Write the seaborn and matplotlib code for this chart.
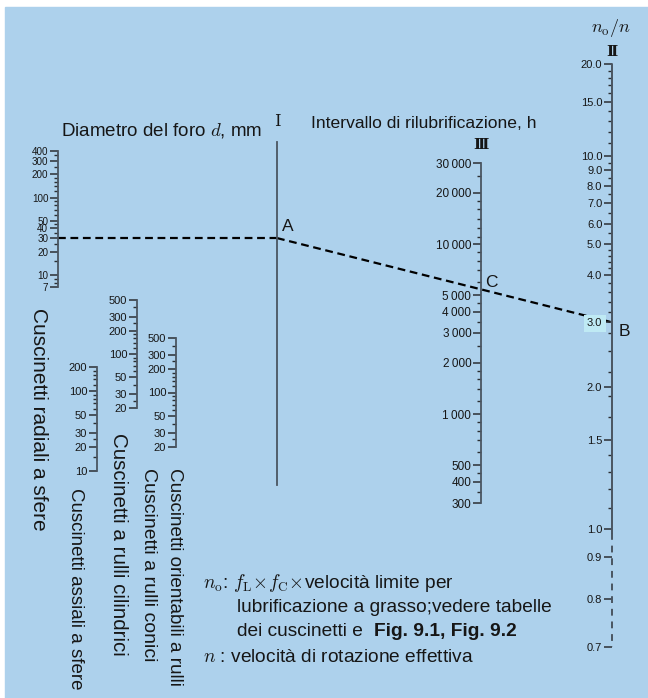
import numpy as np
import matplotlib
matplotlib.use('Agg')
from matplotlib import pyplot as plt
from matplotlib.patches import Rectangle
from matplotlib.ticker import NullFormatter
import seaborn as sns

# ---- scale values ----
d_radial_major = [7, 10, 20, 30, 40, 50, 100, 200, 300, 400]
d_radial_minor = [8, 9, 15, 25, 35, 45, 60, 70, 80, 90, 120, 140, 160, 180, 250, 350]
d_thrust_major = [10, 20, 30, 50, 100, 200]
d_thrust_minor = [15, 25, 40, 60, 70, 80, 90, 120, 140, 160, 180]
d_roller_major = [20, 30, 50, 100, 200, 300, 500]
d_roller_minor = [25, 40, 60, 70, 80, 90, 120, 140, 160, 180, 250, 400]
hours_major = [300, 400, 500, 1000, 2000, 3000, 4000, 5000, 10000, 20000, 30000]
hours_minor = [350, 450, 600, 700, 800, 900, 1200, 1400, 1600, 1800, 2500, 3500, 4500,
               6000, 7000, 8000, 9000, 11000, 12500, 14000, 16000, 18000, 25000]
ratio_major = [20, 15, 10, 9, 8, 7, 6, 5, 4, 3, 2, 1.5, 1.0, 0.9, 0.8, 0.7]
# depth along scale II (percent from the 20.0 end), the scale is not logarithmic
ratio_depth = [0, 6.5, 15.8, 18.2, 20.9, 23.8, 27.4, 30.9, 36.2, 44.3, 55.4, 64.5, 79.8, 84.6, 91.8, 100]
ratio_minor = [19, 18, 17, 16, 14, 13, 12, 11, 9.5, 8.5, 7.5, 6.5, 5.5,
               4.8, 4.6, 4.4, 4.2, 3.8, 3.6, 3.4, 3.2, 2.8, 2.5, 2.2, 1.9, 1.7, 1.4, 1.3, 1.2, 1.1]
example_d = 30      # mm, radial ball bearing
example_ratio = 3.0  # n0/n

BLUE = '#add1ec'
LINE = '#4a5561'
TICK = '#2b2f33'
TEXT = '#161616'

sns.set_style('white')
plt.rcParams['font.family'] = ['Liberation Sans', 'DejaVu Sans']
plt.rcParams['mathtext.fontset'] = 'cm'

W, H = 648, 698
fig = plt.figure(figsize=(W / 100, H / 100), dpi=100)
fig.patch.set_facecolor('white')
bg = fig.add_axes([0, 0, 1, 1])
bg.set_xlim(0, W)
bg.set_ylim(H, 0)
bg.axis('off')
bg.add_patch(Rectangle((5, 7), W - 5, H - 7, color=BLUE, zorder=0))


def make_scale(x, y_top, y_bot, lo, hi, major=None, labels=None, minor=None,
               scale='log', size=7.5):
    ax = fig.add_axes([x / W, 1 - y_bot / H, 1e-4, (y_bot - y_top) / H])
    if scale == 'log':
        ax.set_yscale('log')
    elif scale != 'linear':
        ax.set_yscale('function', functions=scale)
    ax.set_ylim(lo, hi)
    ax.set_xlim(0, 1)
    ax.set_xticks([])
    ax.patch.set_visible(False)
    for s in ['top', 'right', 'bottom']:
        ax.spines[s].set_visible(False)
    ax.spines['left'].set_color(LINE)
    ax.spines['left'].set_linewidth(1.3)
    if major is None:
        ax.set_yticks([])
        ax.set_yticks([], minor=True)
        return ax
    ticks = ax.set_yticks(major, labels=labels, fontsize=size)
    ax.set_yticks(minor, minor=True)
    ax.yaxis.set_minor_formatter(NullFormatter())
    ax.tick_params(axis='y', which='major', left=True, direction='out', length=5.5, width=1.1,
                   color=TICK, pad=1.5, labelcolor=TEXT)
    ax.tick_params(axis='y', which='minor', left=True, direction='out', length=3.2, width=1.0,
                   color=TICK)
    return ax, ticks


def hours_fmt(v):
    return f'{v:,}'.replace(',', '\u2009') if v >= 1000 else str(v)


ax_rad, _ = make_scale(58, 151, 287, 7, 400, d_radial_major, [str(v) for v in d_radial_major],
                       d_radial_minor, size=7.1)
ax_thr, _ = make_scale(97, 367, 471, 10, 200, d_thrust_major, [str(v) for v in d_thrust_major],
                       d_thrust_minor, size=8)
ax_cyl, _ = make_scale(137, 300, 408, 20, 500, d_roller_major, [str(v) for v in d_roller_major],
                       d_roller_minor, size=8)
ax_sph, _ = make_scale(176, 338, 447, 20, 500, d_roller_major, [str(v) for v in d_roller_major],
                       d_roller_minor, size=8)
ax_I = make_scale(277, 142, 485, 0, 1, scale='linear')
ax_h, _ = make_scale(481, 163, 503, 300, 30000, hours_major, [hours_fmt(v) for v in hours_major],
                     hours_minor, size=8.5)

# scale II: non-logarithmic, defined by the depth readings
lv = np.log10(ratio_major)[::-1]
uv = (100 - np.array(ratio_depth))[::-1]


def fwd(v):
    with np.errstate(divide='ignore', invalid='ignore'):
        return np.interp(np.log10(np.clip(v, 1e-6, None)), lv, uv)


def inv(u):
    return 10 ** np.interp(u, uv, lv)


ax_r, r_ticks = make_scale(612, 64, 647, 0.7, 20, ratio_major, [f'{v:.1f}' for v in ratio_major],
                           ratio_minor, scale=(fwd, inv), size=8)
ax_r.spines['left'].set_visible(False)
ax_r.plot([0, 0], [20, 0.985], color=LINE, lw=1.4, clip_on=False)
ax_r.plot([0, 0], [0.985, 0.7], color=LINE, lw=1.4, ls=(0, (3.5, 3)), clip_on=False)
for tk in r_ticks:
    if tk.label1.get_text() == '3.0':
        tk.label1.set_bbox(dict(boxstyle='square,pad=0.3', facecolor='#bfeaf4', edgecolor='none'))

# ---- worked example path through A, C, B ----
inv_bg = bg.transData.inverted()
p0 = inv_bg.transform(ax_rad.transData.transform((0, example_d)))
xI = inv_bg.transform(ax_I.transAxes.transform((0, 0.5)))[0]
pA = np.array([xI, p0[1]])
pB = inv_bg.transform(ax_r.transData.transform((0, example_ratio)))
xC = inv_bg.transform(ax_h.transAxes.transform((0, 0.5)))[0]
yC = pA[1] + (pB[1] - pA[1]) * (xC - pA[0]) / (pB[0] - pA[0])

dash = (0, (3.5, 2.1))
sns.lineplot(x=[p0[0], pA[0]], y=[p0[1], pA[1]], ax=bg, color='black', lw=1.6, linestyle=dash)
sns.lineplot(x=[pA[0], pB[0]], y=[pA[1], pB[1]], ax=bg, color='black', lw=1.6, linestyle=dash)
bg.set_xlim(0, W)
bg.set_ylim(H, 0)
bg.axis('off')

big = 13.5
bg.text(pA[0] + 5, pA[1] - 4, 'A', fontsize=12.5, color=TEXT, ha='left', va='bottom')
bg.text(xC + 4, yC + 1, 'C', fontsize=12.5, color=TEXT, ha='left', va='bottom')
bg.text(pB[0] + 7, pB[1] + 9, 'B', fontsize=12.5, color=TEXT, ha='left', va='center')

# ---- titles ----
bg.text(162, 131, 'Diametro del foro $d$, mm', fontsize=big, color=TEXT, ha='center', va='center')
bg.text(277, 122, 'Ⅰ', fontsize=12, color=TEXT, ha='center', va='center', family=['DejaVu Serif', 'DejaVu Sans'])
bg.text(424, 124, 'Intervallo di rilubrificazione, h', fontsize=12.6, color=TEXT, ha='center', va='center')
bg.text(481, 145, 'Ⅲ', fontsize=11, color=TEXT, ha='center', va='center', weight='bold',
        family=['DejaVu Serif', 'DejaVu Sans'])
bg.text(612, 52, 'Ⅱ', fontsize=11, color=TEXT, ha='center', va='center', weight='bold',
        family=['DejaVu Serif', 'DejaVu Sans'])
bg.text(611, 28, r'$n_{\mathrm{o}}/n$', fontsize=13, color=TEXT, ha='center', va='center')

# ---- bearing type names ----
names = [(38, 308, 'Cuscinetti radiali a sfere', 15),
         (75, 488, 'Cuscinetti assiali a sfere', 13.5),
         (118, 433, 'Cuscinetti a rulli cilindrici', 14.8),
         (148, 468, 'Cuscinetti a rulli conici', 14),
         (174, 468, 'Cuscinetti orientabili a rulli', 13.6)]
for x, y, s, fs in names:
    bg.text(x, y, s, rotation=-90, fontsize=fs, color=TEXT, ha='center', va='top')

# ---- notes ----
note = 13.8
bg.text(203, 583, r'$n_{\mathrm{o}}$: $f_{\mathrm{L}}\!\times\! f_{\mathrm{C}}\!\times\!$velocità limite per',
        fontsize=note, color=TEXT, ha='left', va='center')
bg.text(237, 607, 'lubrificazione a grasso;vedere tabelle', fontsize=note, color=TEXT, ha='left', va='center')
t3 = bg.text(237, 631, 'dei cuscinetti e  ', fontsize=note, color=TEXT, ha='left', va='center')
r = fig.canvas.get_renderer()
x_end = inv_bg.transform(t3.get_window_extent(r).get_points())[1, 0]
bg.text(x_end, 631, 'Fig. 9.1, Fig. 9.2', fontsize=note, color=TEXT, ha='left', va='center', weight='bold')
bg.text(203, 657, '$n$ : velocità di rotazione effettiva', fontsize=note, color=TEXT, ha='left', va='center')

fig.savefig('out.png', dpi=100)
